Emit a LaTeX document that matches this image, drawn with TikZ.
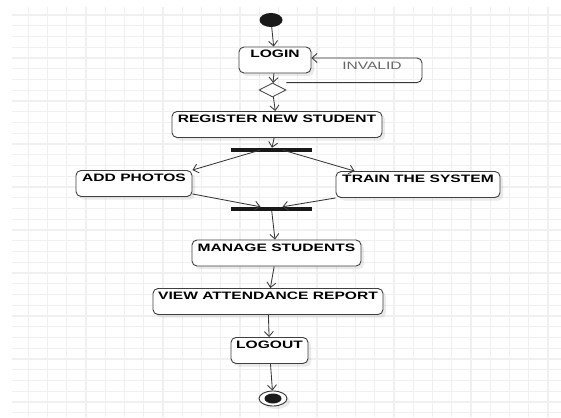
\documentclass[tikz,border=0pt]{standalone}
\usepackage{fontspec}
\newfontfamily\umlfont{Liberation Sans}[FakeStretch=1.45]
\usetikzlibrary{arrows.meta,shapes.geometric,shadows}

\begin{document}
\begin{tikzpicture}[x=1pt, y=-1pt,
        gridline/.style={line width=1.2pt, color=black!6},
        activity/.style={draw=black!75, line width=0.9pt, fill=white, rounded corners=5pt,
            inner xsep=3pt, inner ysep=3pt, text height=8pt, text depth=12pt,
            font=\umlfont\bfseries\fontsize{10.75}{12}\selectfont,
            drop shadow={shadow xshift=3pt, shadow yshift=-3pt, opacity=0.16}},
        bar/.style={fill=black!90, inner sep=0pt, minimum width=81pt, minimum height=4pt},
        flow/.style={draw=black!78, line width=0.85pt, -{Straight Barb[length=5pt, width=9pt]}}]

        % Page:
        \useasboundingbox[fill=white] (0, 0) rectangle (561, 417);

        % Grid:
        \foreach \k in {0, ..., 27}
            \draw[gridline] ({28.3 + 19.25*\k}, 7) -- ({28.3 + 19.25*\k}, 417);
        \foreach \k in {0, ..., 37}
            \draw[gridline] (12, {15 + 10.75*\k}) -- (561, {15 + 10.75*\k});

        % Start and decision:
        \node[ellipse, fill=black!90, minimum width=23pt, minimum height=14pt, inner sep=0pt] (start) at (271, 20) {};
        \node[activity, minimum width=72pt] (login) at (275, 60) {LOGIN};
        \node[diamond, draw=black!75, line width=0.8pt, fill=white, inner sep=0pt, shape aspect=2,
              minimum width=27pt, minimum height=14pt] (dec) at (272.5, 90) {};
        \coordinate (loopstart) at (dec.east |- dec.north);
        \coordinate (loopright) at (422, 70);
        \node[font=\umlfont\fontsize{10.75}{12}\selectfont, color=black!60] (invalid) at (372, 66) {INVALID};

        % Activities:
        \node[activity, minimum width=210pt] (register) at (277, 124.5) {REGISTER NEW STUDENT};
        \node[bar] (fork) at (271.5, 150) {};
        \node[activity, minimum width=116pt] (addp) at (134, 183.5) {ADD PHOTOS};
        \node[activity, minimum width=164pt] (train) at (418, 184.5) {TRAIN THE SYSTEM};
        \node[bar] (join) at (271.5, 209) {};
        \node[activity, minimum width=169pt] (manage) at (276.5, 253) {MANAGE STUDENTS};
        \node[activity, minimum width=230pt] (view) at (268, 301.5) {VIEW ATTENDANCE REPORT};
        \node[activity, minimum width=77pt] (logout) at (269.5, 350.5) {LOGOUT};

        % End:
        \node[ellipse, draw=black!80, line width=0.9pt, fill=white, minimum width=28pt, minimum height=15pt,
              inner sep=0pt, drop shadow={shadow xshift=3pt, shadow yshift=-3pt, opacity=0.16}] (stop) at (273, 398.5) {};
        \node[ellipse, fill=black!90, minimum width=17pt, minimum height=10pt, inner sep=0pt] (stopdot) at (stop) {};

        % Flows:
        \draw[flow] (start) -- (login);
        \draw[flow] (login) -- (dec);
        \draw[flow, rounded corners=5pt] (loopstart) -| (loopright) |- ([yshift=2pt]login.east);
        \draw[flow] (dec) -- (register);
        \draw[flow] (register) -- (fork);
        \draw[flow] ([xshift=-11pt]fork.center) -- (addp.north east);
        \draw[flow] ([xshift=11pt]fork.center) -- ([xshift=19pt]train.north west);
        \draw[flow] ([yshift=3pt]addp.south east) -- ([xshift=-11pt]join.north);
        \draw[flow] (train.south west) -- ([xshift=11pt]join.north);
        \draw[flow] (join) -- (manage);
        \draw[flow] (manage) -- (view);
        \draw[flow] (view) -- (logout);
        \draw[flow] (logout) -- (stop);
    \end{tikzpicture}
\end{document}
